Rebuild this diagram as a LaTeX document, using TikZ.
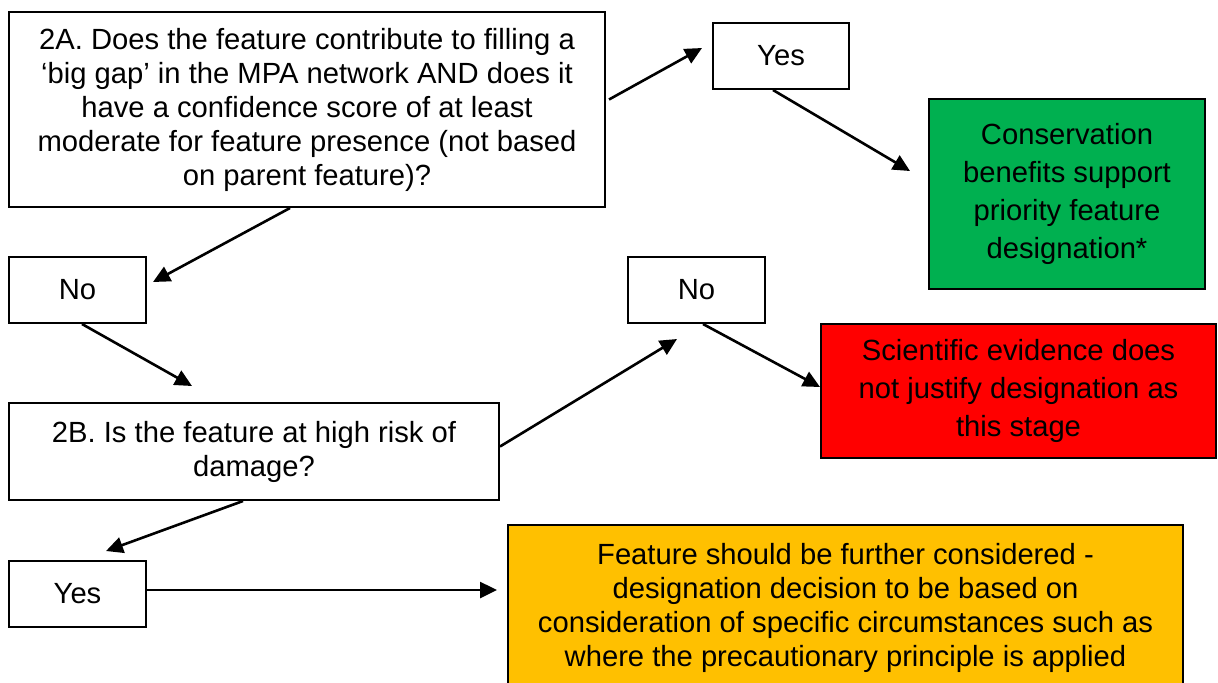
\documentclass[tikz,border=0pt]{standalone}
\usepackage{fontspec}
\setmainfont{Liberation Sans}
\usetikzlibrary{positioning}
\usetikzlibrary{arrows.meta}
\usetikzlibrary{calc}
\definecolor{boxgreen}{HTML}{00B050}
\definecolor{boxred}{HTML}{FF0000}
\definecolor{boxorange}{HTML}{FFC000}

\begin{document}
\begin{tikzpicture}[x=0.5pt, y=-0.5pt,
    box/.style={draw, rectangle, line width=1pt, align=center, inner sep=0pt, font=\fontsize{14.6}{17}\selectfont},
    loose/.style={font=\fontsize{14.6}{19}\selectfont},
    link/.style={-{Triangle[length=8.5pt,width=8pt]}, line width=1.3pt}]
    \useasboundingbox (0,0) rectangle (1218,682);

    % Question boxes
    \node[box, minimum width=298pt, minimum height=97.5pt] (q2a) at (307,109.5) {2A. Does the feature contribute to filling a\\`big gap' in the MPA network AND does it\\have a confidence score of at least\\moderate for feature presence (not based\\on parent feature)?};
    \node[box, minimum width=245pt, minimum height=48.5pt] (q2b) at (254,451.5) {2B. Is the feature at high risk of\\damage?};

    % Answer boxes
    \node[box, minimum width=68pt, minimum height=33pt] (yes1) at (781,56) {Yes};
    \node[box, minimum width=68.5pt, minimum height=33pt] (no1) at (77.5,290) {No};
    \node[box, minimum width=68.5pt, minimum height=33pt] (no2) at (696.5,290) {No};
    \node[box, minimum width=68.5pt, minimum height=33pt] (yes2) at (77.5,594) {Yes};

    % Outcome boxes
    \node[box, loose, fill=boxgreen, minimum width=138pt, minimum height=95pt] (green) at (1067,194) {Conservation\\benefits support\\priority feature\\designation*};
    \node[box, loose, fill=boxred, minimum width=197.5pt, minimum height=67pt] (red) at (1018.5,391) {Scientific evidence does\\not justify designation as\\this stage};
    \node[box, fill=boxorange, minimum width=337.5pt, minimum height=82.5pt] (orange) at (845.5,607.5) {Feature should be further considered -\\designation decision to be based on\\consideration of specific circumstances such as\\where the precautionary principle is applied};

    % Arrows
    \draw[link] ($(q2a.east)+(3,-10)$) -- ($(yes1.west)+(-10,-8)$);
    \draw[link] ($(yes1.south)+(-8,0)$) -- ($(green.west)+(-18,-23)$);
    \draw[link] ($(q2a.south)+(-17,0)$) -- ($(no1.east)+(6,-8)$);
    \draw[link] ($(no1.south)+(4.5,0)$) -- ($(q2b.north)+(-62,-16)$);
    \draw[link] ($(q2b.east)+(0,-5)$) -- ($(no2.south)+(-19.5,15)$);
    \draw[link] ($(no2.south)+(6.5,0)$) -- ($(red.west)+(0,-4)$);
    \draw[link] ($(q2b.south)+(-11,0)$) -- ($(yes2.north)+(28.5,-9)$);
    \draw[link] ($(yes2.east)+(0,-4)$) -- ($(orange.west)+(-10,-17.5)$);
\end{tikzpicture}
\end{document}
